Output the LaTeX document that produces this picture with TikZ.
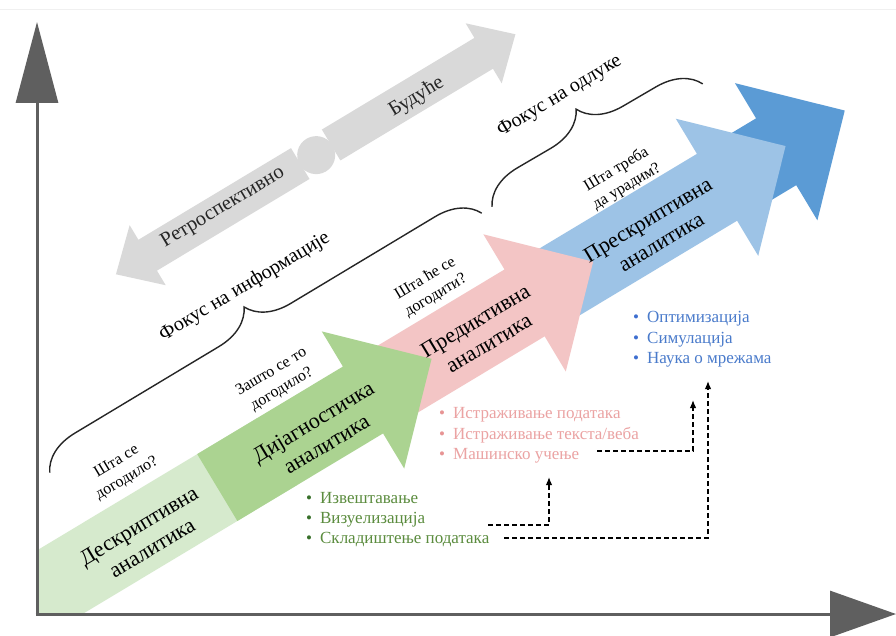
\documentclass[tikz,border=0pt]{standalone}
\usepackage{fontspec}
\setmainfont{Liberation Serif}
\usetikzlibrary{arrows.meta,decorations.pathreplacing}

\definecolor{descr}{HTML}{D6EACD}
\definecolor{diagn}{HTML}{ABD391}
\definecolor{predi}{HTML}{F3C5C5}
\definecolor{presc}{HTML}{9DC3E6}
\definecolor{presd}{HTML}{5B9BD5}
\definecolor{timeg}{HTML}{D9D9D9}
\definecolor{axisg}{HTML}{5F5F5F}
\definecolor{gtext}{HTML}{5B8C3E}
\definecolor{gdot}{HTML}{38702A}
\definecolor{ptext}{HTML}{EBA3A3}
\definecolor{pdot}{HTML}{E79494}
\definecolor{btext}{HTML}{4A7BCB}
\definecolor{bdot}{HTML}{3E6FD0}

\tikzset{
  stagelbl/.style={rotate=31, align=center, inner sep=0pt, text=black,
    font=\fontsize{22}{26}\selectfont},
  questlbl/.style={rotate=31, align=center, inner sep=0pt, text=black,
    font=\fontsize{16}{20}\selectfont},
  focuslbl/.style={rotate=31, inner sep=0pt, text=black,
    font=\fontsize{20}{24}\selectfont},
  timelbl/.style={rotate=31, inner sep=0pt, text=black!85,
    font=\fontsize{20.5}{24}\selectfont},
  listitem/.style={anchor=base west, inner sep=0pt,
    font=\fontsize{17}{20}\selectfont},
  focusbrace/.style={decorate, decoration={brace, amplitude=42pt},
    line width=1.4pt, draw=black!85},
  dashconn/.style={dash pattern=on 5pt off 3pt, line width=1.4pt, draw=black,
    -{Latex[length=8pt,width=6.5pt]}},
  axisline/.style={line width=3pt, draw=axisg},
}

\begin{document}
\begin{tikzpicture}[x=1pt, y=-1pt]
\useasboundingbox (0,0) rectangle (896,636);
\fill[white] (0,0) rectangle (896,636);
\draw[black!6, line width=1pt] (0,10) -- (896,10);

% descriptive band, cut off by the two axes
\begin{scope}
  \clip (37,0) rectangle (896,614);
  \begin{scope}[shift={(363,400)}, rotate=31]
    \fill[descr] (-450,-39) rectangle (-100,39);
  \end{scope}
\end{scope}

\begin{scope}[shift={(363,400)}, rotate=31]
  % time axis: retrospective <-> future
  \fill[timeg] (-147,-235) -- (-110,-270) -- (-110,-253) -- (68,-253)
    -- (68,-217) -- (-110,-217) -- (-110,-200) -- cycle;
  \fill[timeg] (319,-235) -- (282,-270) -- (282,-253) -- (104,-253)
    -- (104,-217) -- (282,-217) -- (282,-200) -- cycle;
  \fill[timeg] (86,-234) circle[radius=19];
  \node[timelbl] (retro) at (-21,-237) {Ретроспективно};
  \node[timelbl] (future) at (202,-232) {Будуће};

  % focus braces
  \coordinate (bi1) at (-306,-99);
  \coordinate (bi2) at (198,-99);
  \coordinate (bd1) at (210,-99);
  \coordinate (bd2) at (454,-96);
  \draw[focusbrace] (bi1) -- (bi2);
  \draw[focusbrace] (bd1) -- (bd2);
  \node[focuslbl] (finfo) at (-43,-158) {Фокус на информације};
  \node[focuslbl] (fdec) at (325,-159) {Фокус на одлуке};

  % stage arrows, later stages behind earlier ones
  \fill[presd] (430,-39) -- (482,-39) -- (482,-80) -- (562,0)
    -- (482,80) -- (482,39) -- (430,39) -- cycle;
  \fill[presc] (200,-39) -- (413,-39) -- (413,-80) -- (493,0)
    -- (413,80) -- (413,39) -- (200,39) -- cycle;
  \fill[predi] (10,-39) -- (188.5,-39) -- (188.5,-80) -- (268.5,0)
    -- (188.5,80) -- (188.5,39) -- (10,39) -- cycle;
  \fill[diagn] (-170,-39) -- (0,-39) -- (0,-80) -- (80,0)
    -- (0,80) -- (0,39) -- (-170,39) -- cycle;

  \node[stagelbl] (descrl) at (-257,5) {Дескриптивна\\аналитика};
  \node[stagelbl] (diagnl) at (-54,6) {Дијагностичка\\аналитика};
  \node[stagelbl] (predil) at (137,3) {Предиктивна\\аналитика};
  \node[stagelbl] (prescl) at (337,5) {Прескриптивна\\аналитика};

  \node[questlbl] (q1) at (-243,-64) {Шта се\\догодило?};
  \node[questlbl] (q2) at (-64,-61) {Зашто се то\\догодило?};
  \node[questlbl] (q3) at (116,-62) {Шта ће се\\догодити?};
  \node[questlbl] (q4) at (336,-57) {Шта треба\\да урадим?};
\end{scope}

% technique lists
\node[listitem, text=gtext] (g1) at (306,503) {{\color{gdot}•}\hspace{8pt}Извештавање};
\node[listitem, text=gtext] (g2) at (306,523) {{\color{gdot}•}\hspace{8pt}Визуелизација};
\node[listitem, text=gtext] (g3) at (306,543) {{\color{gdot}•}\hspace{8pt}Складиштење података};

\node[listitem, text=ptext] (p1) at (439,418) {{\color{pdot}•}\hspace{8pt}Истраживање података};
\node[listitem, text=ptext] (p2) at (439,439) {{\color{pdot}•}\hspace{8pt}Истраживање текста/веба};
\node[listitem, text=ptext] (p3) at (439,459) {{\color{pdot}•}\hspace{8pt}Машинско учење};

\node[listitem, text=btext] (b1) at (633,322) {{\color{bdot}•}\hspace{8pt}Оптимизација};
\node[listitem, text=btext] (b2) at (633,343) {{\color{bdot}•}\hspace{8pt}Симулација};
\node[listitem, text=btext] (b3) at (633,363) {{\color{bdot}•}\hspace{8pt}Наука о мрежама};

% dashed links between technique groups
\coordinate (visout) at (488,525);
\coordinate (predin) at (549,477);
\coordinate (storout) at (504,538);
\coordinate (presin1) at (708,381);
\coordinate (mlout) at (597,451);
\coordinate (presin2) at (693,400);
\draw[dashconn] (visout) -| (predin);
\draw[dashconn] (storout) -| (presin1);
\draw[dashconn] (mlout) -| (presin2);

% axes
\coordinate (origin) at (37,614);
\coordinate (ytip) at (37,22);
\coordinate (xtip) at (896,614);
\draw[axisline, -{Triangle[length=81pt,width=42pt]}] (origin) -- (ytip);
\draw[axisline, -{Triangle[length=66pt,width=46pt]}] ([xshift=-1.5pt]origin) -- (xtip);
\end{tikzpicture}
\end{document}
